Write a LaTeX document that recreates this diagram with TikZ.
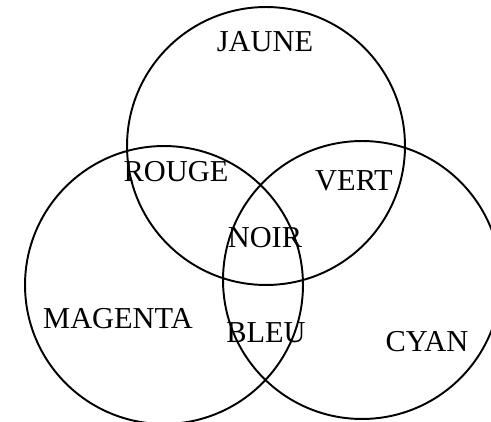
\documentclass[tikz,border=0pt]{standalone}
\usepackage{fontspec}
\setmainfont{Liberation Serif}
\usepackage{tikz}
\tikzset{
  ringnode/.style={circle, draw=black, line width=1.1pt, minimum size=5.56cm, inner sep=0pt},
  colournode/.style={font=\fontsize{17.3}{20}\selectfont, inner sep=0pt, anchor=center},
}
\begin{document}
\begin{tikzpicture}[x=0.02cm, y=-0.02cm]
  \clip (0,0) rectangle (491,422);
  \node[ringnode] (jaunering) at (266,146) {};
  \node[ringnode] (magentaring) at (164,285) {};
  \node[ringnode] (cyanring) at (362,280) {};
  \node[colournode] (jaune) at (265,42) {JAUNE};
  \node[colournode] (rouge) at (176,172) {ROUGE};
  \node[colournode] (vert) at (354,181) {VERT};
  \node[colournode] (noir) at (265,238) {NOIR};
  \node[colournode] (magenta) at (118,319) {MAGENTA};
  \node[colournode] (bleu) at (266,333) {BLEU};
  \node[colournode] (cyan) at (427,342) {CYAN};
\end{tikzpicture}
\end{document}
